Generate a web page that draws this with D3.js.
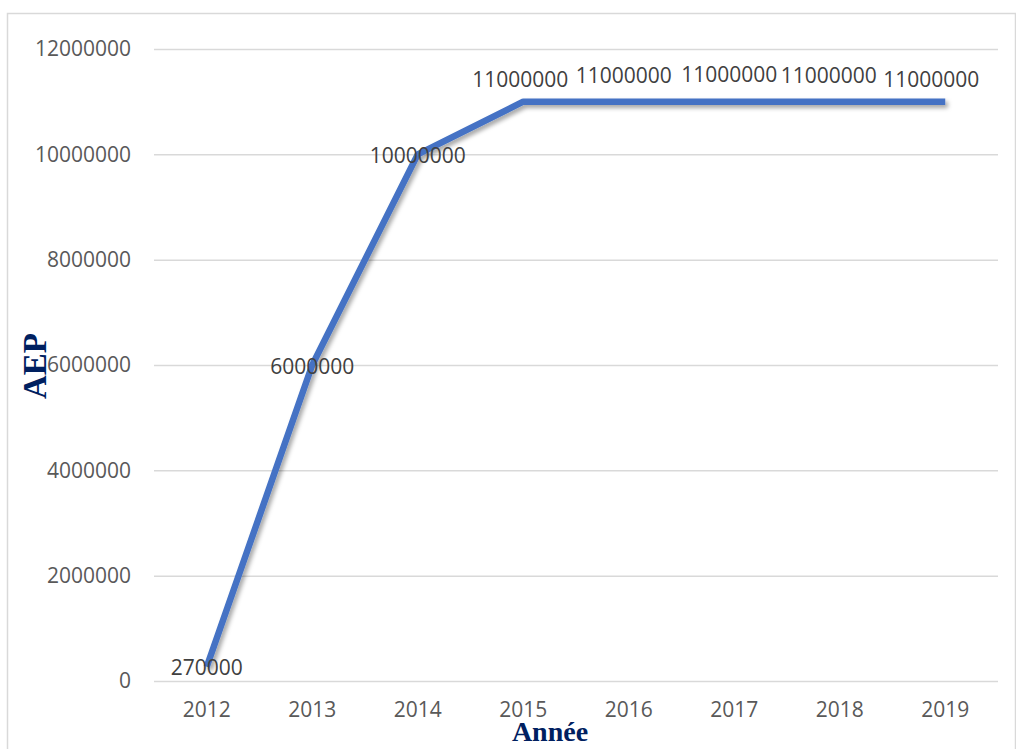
<!DOCTYPE html>
<html>
<head>
<meta charset="utf-8">
<script src="https://cdn.jsdelivr.net/npm/d3@7"></script>
<style>
  html, body { margin: 0; padding: 0; background: #fff; }
  svg { display: block; }
</style>
</head>
<body>
<svg id="chart" width="1016" height="749"></svg>
<script>
// AEP per year
const years = ["2012", "2013", "2014", "2015", "2016", "2017", "2018", "2019"];
const aep = [270000, 6000000, 10000000, 11000000, 11000000, 11000000, 11000000, 11000000];
const yTicks = [0, 2000000, 4000000, 6000000, 8000000, 10000000, 12000000];
// label offsets from each point, in px [dx, dy to baseline]
const labelOffset = [[0, 8], [0, 9], [0, 9], [-3, -15], [-5, -19], [-5, -20], [-11, -19], [-14, -15]];

const svg = d3.select("#chart");
const W = 1016, H = 749;
const plot = { left: 154, right: 998, top: 49, bottom: 681 };

// chart frame
svg.append("rect")
  .attr("x", 7.5).attr("y", 13.5)
  .attr("width", W - 8).attr("height", H)
  .attr("fill", "#fff").attr("stroke", "#d9d9d9").attr("stroke-width", 1.5);

const x = d3.scaleBand().domain(years).range([plot.left, plot.right]);
const y = d3.scaleLinear().domain([0, 12000000]).range([plot.bottom, plot.top]);

// gridlines and y tick labels
const yAxis = d3.axisLeft(y).tickValues(yTicks).tickSize(-(plot.right - plot.left)).tickPadding(23).tickFormat(d3.format("d"));
const gy = svg.append("g").attr("transform", `translate(${plot.left},0)`).call(yAxis);
gy.select(".domain").remove();
gy.selectAll(".tick line").attr("stroke", "#d9d9d9").attr("stroke-width", 1.5);
gy.selectAll(".tick text")
  .attr("fill", "#595959")
  .attr("font-family", "'Open Sans', sans-serif")
  .attr("font-size", 21);

// x tick labels
const xAxis = d3.axisBottom(x).tickSize(0).tickPadding(21);
const gx = svg.append("g").attr("transform", `translate(0,${plot.bottom})`).call(xAxis);
gx.select(".domain").remove();
gx.selectAll(".tick text")
  .attr("fill", "#595959")
  .attr("font-family", "'Open Sans', sans-serif")
  .attr("font-size", 21);

// line shadow
const defs = svg.append("defs");
const f = defs.append("filter").attr("id", "shadow").attr("x", "-10%").attr("y", "-10%").attr("width", "120%").attr("height", "120%");
f.append("feDropShadow").attr("dx", 2.5).attr("dy", 3).attr("stdDeviation", 2.2)
  .attr("flood-color", "#000").attr("flood-opacity", 0.35);

const cx = i => x(years[i]) + x.bandwidth() / 2;

const line = d3.line()
  .x((d, i) => cx(i))
  .y(d => y(d));

svg.append("path")
  .datum(aep)
  .attr("d", line)
  .attr("fill", "none")
  .attr("stroke", "#4472c4")
  .attr("stroke-width", 6.5)
  .attr("stroke-linejoin", "round")
  .attr("filter", "url(#shadow)");

// value labels
svg.append("g").selectAll("text")
  .data(aep)
  .join("text")
  .attr("x", (d, i) => cx(i) + labelOffset[i][0])
  .attr("y", (d, i) => y(d) + labelOffset[i][1])
  .attr("text-anchor", "middle")
  .attr("fill", "#404040")
  .attr("font-family", "'Open Sans', sans-serif")
  .attr("font-size", 21)
  .text(d => d3.format("d")(d));

// axis titles
svg.append("text")
  .attr("transform", "translate(46,366) rotate(-90)")
  .attr("text-anchor", "middle")
  .attr("fill", "#002060")
  .attr("font-family", "'Liberation Serif', 'Times New Roman', serif")
  .attr("font-weight", "bold")
  .attr("font-size", 33)
  .text("AEP");

svg.append("text")
  .attr("x", 550).attr("y", 741)
  .attr("text-anchor", "middle")
  .attr("fill", "#002060")
  .attr("font-family", "'Liberation Serif', 'Times New Roman', serif")
  .attr("font-weight", "bold")
  .attr("font-size", 28)
  .text("Année");
</script>
</body>
</html>
